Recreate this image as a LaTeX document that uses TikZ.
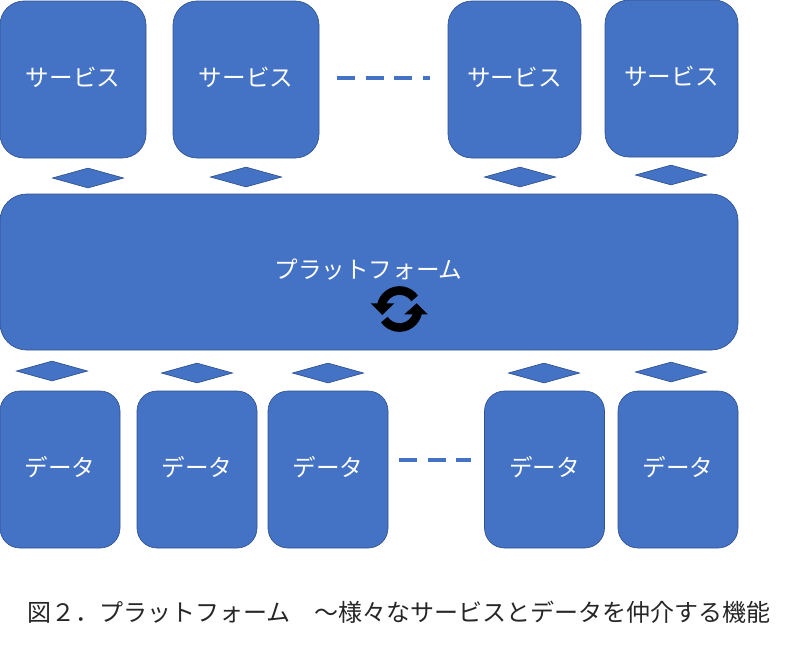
\documentclass[tikz,border=0pt]{standalone}
\usepackage{fontspec}
\setmainfont{Noto Sans CJK JP}
\usetikzlibrary{shapes.geometric}
\definecolor{boxfill}{HTML}{4472C4}
\definecolor{boxline}{HTML}{2F528F}
\begin{document}
\begin{tikzpicture}[x=0.75pt,y=-0.75pt,
  box/.style={draw=boxline,fill=boxfill,line width=0.5pt,text=white,font=\fontsize{17.7}{20}\selectfont,inner sep=0pt},
  servicebox/.style={box,rounded corners=18pt,minimum height=117.75pt,text depth=4.2pt},
  databox/.style={box,rounded corners=15pt,minimum width=90pt,minimum height=117.75pt,text depth=4.2pt},
  link/.style={diamond,draw=boxline,fill=boxfill,line width=0.5pt,inner sep=0pt,minimum width=53.5pt,minimum height=15pt,shape aspect=3.6},
  gap/.style={draw=boxfill,line width=3pt,dash pattern=on 13.5pt off 8pt}]
\useasboundingbox (0,0) rectangle (791,644);

\node[servicebox,minimum width=109.5pt] (service1) at (73,79.5) {サービス};
\node[servicebox,minimum width=109.5pt] (service2) at (246,79.5) {サービス};
\node[servicebox,minimum width=99.75pt] (service3) at (514.5,79.5) {サービス};
\node[servicebox,minimum width=99.75pt] (service4) at (671.5,78.5) {サービス};

\node[box,rounded corners=20pt,minimum width=553.5pt,minimum height=117pt] (platform) at (369,272) {};
\node[text=white,font=\fontsize{17.7}{20}\selectfont,inner sep=0pt] (platformlabel) at (368.5,270) {プラットフォーム};

\node[databox] (data1) at (60,469.5) {データ};
\node[databox] (data2) at (197,469.5) {データ};
\node[databox] (data3) at (328,469.5) {データ};
\node[databox] (data4) at (544.5,469.5) {データ};
\node[databox] (data5) at (678,469.5) {データ};

\node[link] (link1) at (88,178) {};
\node[link] (link2) at (246,177) {};
\node[link] (link3) at (520,177) {};
\node[link] (link4) at (671,175) {};
\node[link] (link5) at (52,371) {};
\node[link] (link6) at (197,373) {};
\node[link] (link7) at (328,373) {};
\node[link] (link8) at (544,373) {};
\node[link] (link9) at (671,372) {};

\coordinate (gaptopa) at (337,78);
\coordinate (gaptopb) at (430,78);
\coordinate (gapbottoma) at (399,460);
\coordinate (gapbottomb) at (471,460);
\draw[gap] (gaptopa) -- (gaptopb);
\draw[gap] (gapbottoma) -- (gapbottomb);

% refresh icon
\coordinate (icon) at (399.5,309);
\draw[black,line width=6.5pt] ([shift={(35:18.5*0.75pt)}]icon) arc[start angle=35,end angle=172,radius=13.875pt];
\draw[black,line width=6.5pt] ([shift={(215:18.5*0.75pt)}]icon) arc[start angle=215,end angle=352,radius=13.875pt];
\fill[black] (370.7,303.3) -- (394.3,303.3) -- (382.3,315) -- cycle;
\fill[black] (427.7,314.3) -- (404.3,314.3) -- (416.7,303.3) -- cycle;

\node[text=black!85,font=\fontsize{18}{20}\selectfont,inner sep=0pt] (caption) at (399,612) {図２．プラットフォーム　～様々なサービスとデータを仲介する機能};
\end{tikzpicture}
\end{document}
